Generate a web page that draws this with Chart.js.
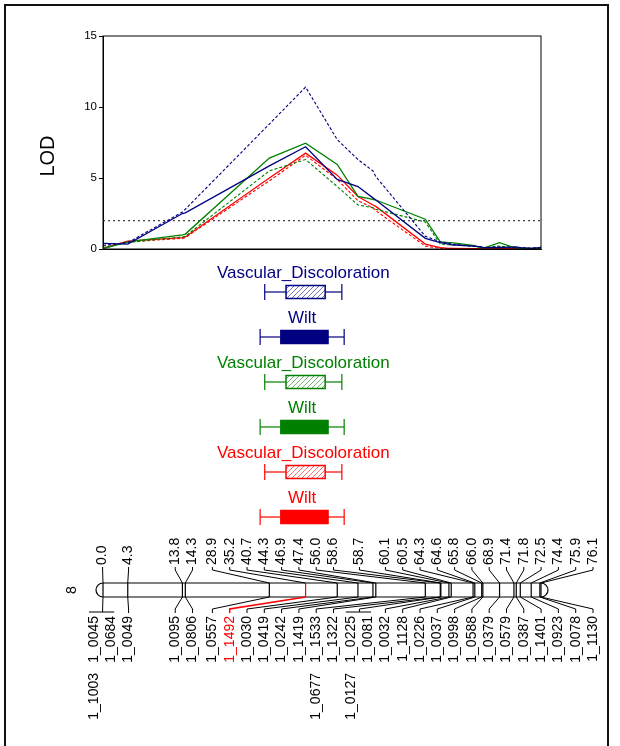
<!DOCTYPE html>
<html>
<head>
<meta charset="utf-8">
<script src="https://cdn.jsdelivr.net/npm/chart.js@4.4.1/dist/chart.umd.min.js"></script>
<style>
  html, body { margin: 0; padding: 0; background: #fff; }
  #lodChart { display: block; }
</style>
</head>
<body>
<canvas id="lodChart" width="620" height="746"></canvas>
<script>
// LOD profiles along linkage group 8 (positions in cM)
const lodCm = [0.0, 4.3, 13.8, 14.3, 28.9, 35.2, 40.7, 44.3, 46.9, 47.4, 56.0, 58.6, 58.7,
  60.1, 60.5, 64.3, 64.6, 65.8, 66.0, 68.9, 71.4, 71.8, 72.5, 74.4, 75.9, 76.1];
const vdNavy   = [0.25, 0.45, 2.6, 2.8, 8.8, 11.4, 7.7, 6.3, 5.5, 5.1, 0.9, 0.5, 0.5, 0.4, 0.35, 0.2, 0.2, 0.15, 0.1, 0.15, 0.1, 0.1, 0.1, 0.05, 0.1, 0.1];
const wiltNavy = [0.4, 0.35, 2.5, 2.55, 5.85, 7.2, 4.9, 4.4, 3.6, 3.45, 0.75, 0.45, 0.45, 0.35, 0.3, 0.2, 0.2, 0.15, 0.1, 0.1, 0.15, 0.15, 0.1, 0.05, 0.1, 0.15];
const vdGreen  = [0.1, 0.45, 0.85, 0.9, 5.5, 6.3, 4.4, 3.1, 2.9, 2.8, 1.9, 0.35, 0.35, 0.3, 0.3, 0.2, 0.2, 0.1, 0.1, 0.2, 0.1, 0.1, 0.05, 0.05, 0.05, 0.1];
const wiltGreen= [0.02, 0.5, 1.0, 1.05, 6.4, 7.45, 5.95, 3.7, 3.5, 3.45, 2.1, 0.5, 0.5, 0.45, 0.45, 0.25, 0.2, 0.1, 0.05, 0.45, 0.1, 0.1, 0.05, 0.05, 0.05, 0.1];
const vdRed    = [0.05, 0.5, 0.75, 0.8, 4.8, 6.6, 4.9, 3.4, 2.9, 2.7, 0.2, 0.05, 0.05, 0.03, 0.03, 0.02, 0.02, 0.02, 0.02, 0.03, 0.02, 0.02, 0.02, 0.02, 0.02, 0.05];
const wiltRed  = [0.05, 0.55, 0.8, 0.85, 5.0, 6.75, 5.2, 3.7, 3.1, 3.0, 0.35, 0.1, 0.1, 0.05, 0.05, 0.02, 0.02, 0.02, 0.02, 0.05, 0.02, 0.02, 0.02, 0.02, 0.02, 0.05];
const lodThreshold = 2.0;
const lodTicks = [0, 5, 10, 15];

// QTL intervals (2-LOD whiskers, 1-LOD box), top to bottom
const qtlTraits    = ['Vascular_Discoloration', 'Wilt', 'Vascular_Discoloration', 'Wilt', 'Vascular_Discoloration', 'Wilt'];
const qtlOuterFrom = [28.1, 27.3, 28.1, 27.3, 28.1, 27.3];
const qtlOuterTo   = [41.5, 41.9, 41.5, 41.9, 41.5, 41.9];
const qtlInnerFrom = [31.8, 30.9, 31.8, 30.9, 31.8, 30.9];
const qtlInnerTo   = [38.6, 39.1, 38.6, 39.1, 38.6, 39.1];

// markers of group 8
const groupName = '8';
const markerNames = ['1_0045', '1_0684', '1_0049', '1_0095', '1_0806', '1_0557', '1_1492', '1_0030',
  '1_0419', '1_0242', '1_1419', '1_1533', '1_1322', '1_0225', '1_0081', '1_0032', '1_1128', '1_0226',
  '1_0037', '1_0998', '1_0588', '1_0379', '1_0579', '1_0387', '1_1401', '1_0923', '1_0078', '1_1130'];
const markerCm = [0.0, 0.0, 4.3, 13.8, 14.3, 28.9, 35.2, 40.7, 44.3, 46.9, 47.4, 56.0, 58.6, 58.7,
  58.7, 60.1, 60.5, 64.3, 64.6, 65.8, 66.0, 68.9, 71.4, 71.8, 72.5, 74.4, 75.9, 76.1];
const linkedNames = ['1_1003', '1_0677', '1_0127'];
const linkedTo    = ['1_0045', '1_1533', '1_0225'];
const highlightMarker = '1_1492';

const NAVY = '#000080', GREEN = '#008000', RED = '#ff0000';
const qtlColors = [NAVY, NAVY, GREEN, GREEN, RED, RED];
const qtlHatched = [true, false, true, false, true, false];
const FONT = '"Liberation Sans", Arial, sans-serif';

function pts(values) {
  return lodCm.map((x, i) => ({ x: x, y: values[i] }));
}

function profile(values, color, dashed) {
  return {
    data: pts(values),
    borderColor: color,
    borderWidth: dashed ? 1.1 : 1.3,
    borderDash: dashed ? [3, 2] : [],
    pointRadius: 0,
    tension: 0,
    fill: false
  };
}

// spread labels so they keep a minimum gap, groups centred on their targets
function spreadLabels(targets, gap, lo, hi) {
  const groups = targets.map(t => ({ n: 1, sum: t, first: t }));
  const place = g => {
    let first = g.sum / g.n - (g.n - 1) * gap / 2;
    first = Math.min(first, hi - (g.n - 1) * gap);
    g.first = Math.max(lo, first);
  };
  groups.forEach(place);
  let merged = true;
  while (merged) {
    merged = false;
    for (let i = 0; i < groups.length - 1; i++) {
      const a = groups[i], b = groups[i + 1];
      if (a.first + a.n * gap > b.first + 0.01) {
        a.n += b.n;
        a.sum += b.sum;
        place(a);
        groups.splice(i + 1, 1);
        merged = true;
        break;
      }
    }
  }
  const out = [];
  groups.forEach(g => { for (let k = 0; k < g.n; k++) out.push(g.first + k * gap); });
  return out;
}

function vText(ctx, s, x, y, align, color) {
  ctx.save();
  ctx.translate(x, y);
  ctx.rotate(-Math.PI / 2);
  ctx.textAlign = align;
  ctx.textBaseline = 'middle';
  ctx.fillStyle = color;
  ctx.fillText(s, 0, 0);
  ctx.restore();
}

function hatch(ctx, color) {
  const c = document.createElement('canvas');
  c.width = 5; c.height = 5;
  const g = c.getContext('2d');
  g.strokeStyle = color;
  g.globalAlpha = 0.7;
  g.lineWidth = 0.8;
  g.beginPath();
  g.moveTo(0, 5); g.lineTo(5, 0);
  g.moveTo(-1, 1); g.lineTo(1, -1);
  g.moveTo(4, 6); g.lineTo(6, 4);
  g.stroke();
  return ctx.createPattern(c, 'repeat');
}

function line(ctx, pts) {
  ctx.beginPath();
  ctx.moveTo(pts[0][0], pts[0][1]);
  for (let i = 1; i < pts.length; i++) ctx.lineTo(pts[i][0], pts[i][1]);
  ctx.stroke();
}

const mapLayer = {
  id: 'mapLayer',
  afterDraw(chart) {
    const ctx = chart.ctx;
    const area = chart.chartArea;
    const xs = chart.scales.x;
    const px = v => xs.getPixelForValue(v);

    ctx.save();
    // outer frame
    ctx.strokeStyle = '#111';
    ctx.lineWidth = 2;
    ctx.strokeRect(5, 5, 603, 800);

    // plot box
    ctx.strokeStyle = '#000';
    ctx.lineWidth = 1;
    ctx.strokeRect(area.left, area.top, area.right - area.left, area.bottom - area.top);

    // axis title
    ctx.font = '20px ' + FONT;
    vText(ctx, 'LOD', 48, 156, 'center', '#000');

    // QTL intervals
    qtlTraits.forEach((name, i) => {
      const cy = 292 + i * 45;
      const color = qtlColors[i];
      const a = px(qtlOuterFrom[i]), b = px(qtlOuterTo[i]);
      const c = px(qtlInnerFrom[i]), d = px(qtlInnerTo[i]);
      ctx.font = '17px ' + FONT;
      ctx.fillStyle = color;
      ctx.textAlign = 'center';
      ctx.textBaseline = 'middle';
      ctx.fillText(name, (a + b) / 2, cy - 19);

      ctx.strokeStyle = color;
      ctx.lineWidth = 1.2;
      line(ctx, [[a, cy], [c, cy]]);
      line(ctx, [[d, cy], [b, cy]]);
      line(ctx, [[a, cy - 8], [a, cy + 8]]);
      line(ctx, [[b, cy - 8], [b, cy + 8]]);
      if (qtlHatched[i]) {
        ctx.fillStyle = '#fff';
        ctx.fillRect(c, cy - 6.5, d - c, 13);
        ctx.fillStyle = hatch(ctx, color);
      } else {
        ctx.fillStyle = color;
      }
      ctx.fillRect(c, cy - 6.5, d - c, 13);
      ctx.lineWidth = 1.5;
      ctx.strokeRect(c, cy - 6.5, d - c, 13);
    });

    // chromosome bar
    const top = 583, bot = 597, mid = (top + bot) / 2, r = (bot - top) / 2;
    const x0 = px(markerCm[0]), x1 = px(markerCm[markerCm.length - 1]);
    ctx.strokeStyle = '#000';
    ctx.lineWidth = 1.2;
    ctx.beginPath();
    ctx.moveTo(x0, top);
    ctx.lineTo(x1, top);
    ctx.arc(x1, mid, r, -Math.PI / 2, Math.PI / 2);
    ctx.lineTo(x0, bot);
    ctx.arc(x0, mid, r, Math.PI / 2, Math.PI * 1.5);
    ctx.stroke();

    ctx.font = '14px ' + FONT;
    vText(ctx, groupName, 72, mid, 'center', '#000');

    // label slots below the bar, one per marker name
    const slots = spreadLabels(markerCm.map(px), 17.3, 60, xs.right + 52);
    const positions = [...new Set(markerCm)];

    positions.forEach(cm => {
      const idx = markerCm.map((c, i) => c === cm ? i : -1).filter(i => i >= 0);
      const sx = idx.reduce((s, i) => s + slots[i], 0) / idx.length;
      const mx = px(cm);
      const hot = idx.some(i => markerNames[i] === highlightMarker);

      // tick on the bar
      ctx.strokeStyle = hot ? RED : '#000';
      ctx.lineWidth = 1.2;
      line(ctx, [[mx, top], [mx, bot]]);

      // position label above
      ctx.strokeStyle = '#000';
      ctx.lineWidth = 1;
      line(ctx, [[sx, 567], [sx, 570], [mx, top]]);
      ctx.font = '14px ' + FONT;
      vText(ctx, cm.toFixed(1), sx, 565, 'left', '#000');

      // marker names below
      ctx.strokeStyle = hot ? RED : '#000';
      ctx.lineWidth = hot ? 1.5 : 1;
      if (idx.length > 1) {
        line(ctx, [[mx, bot], [sx, 609], [sx, 612]]);
        line(ctx, [[slots[idx[0]] - 5, 612], [slots[idx[idx.length - 1]] + 3, 612]]);
      } else {
        line(ctx, [[mx, bot], [sx, 609], [sx, 613]]);
      }
      idx.forEach(i => {
        vText(ctx, markerNames[i], slots[i], 616, 'right', markerNames[i] === highlightMarker ? RED : '#000');
      });
    });

    linkedNames.forEach((name, k) => {
      const i = markerNames.indexOf(linkedTo[k]);
      vText(ctx, name, slots[i], 673, 'right', '#000');
    });
    ctx.restore();
  }
};

new Chart(document.getElementById('lodChart'), {
  type: 'line',
  data: {
    datasets: [
      profile(vdNavy, NAVY, true),
      profile(wiltNavy, NAVY, false),
      profile(vdGreen, GREEN, true),
      profile(wiltGreen, GREEN, false),
      profile(vdRed, RED, true),
      profile(wiltRed, RED, false),
      {
        data: [{ x: lodCm[0], y: lodThreshold }, { x: lodCm[lodCm.length - 1], y: lodThreshold }],
        borderColor: '#444',
        borderWidth: 1.2,
        borderDash: [2, 3],
        pointRadius: 0
      }
    ]
  },
  options: {
    responsive: false,
    animation: false,
    devicePixelRatio: 1,
    layout: { padding: { left: 0, top: 36, right: 79, bottom: 497 } },
    plugins: { legend: { display: false }, tooltip: { enabled: false } },
    scales: {
      x: {
        type: 'linear',
        min: lodCm[0],
        max: lodCm[lodCm.length - 1],
        ticks: { display: false },
        grid: { display: false, drawTicks: false },
        border: { color: '#000', width: 1 },
        afterFit: s => { s.height = 0; }
      },
      y: {
        min: 0,
        max: 15,
        afterBuildTicks: s => { s.ticks = lodTicks.map(v => ({ value: v })); },
        ticks: { color: '#000', font: { size: 11.5, family: FONT }, padding: 2 },
        grid: { drawOnChartArea: false, tickLength: 4, color: '#000' },
        border: { color: '#000', width: 1 },
        afterFit: s => { s.width = 103; }
      }
    }
  },
  plugins: [mapLayer]
});
</script>
</body>
</html>
